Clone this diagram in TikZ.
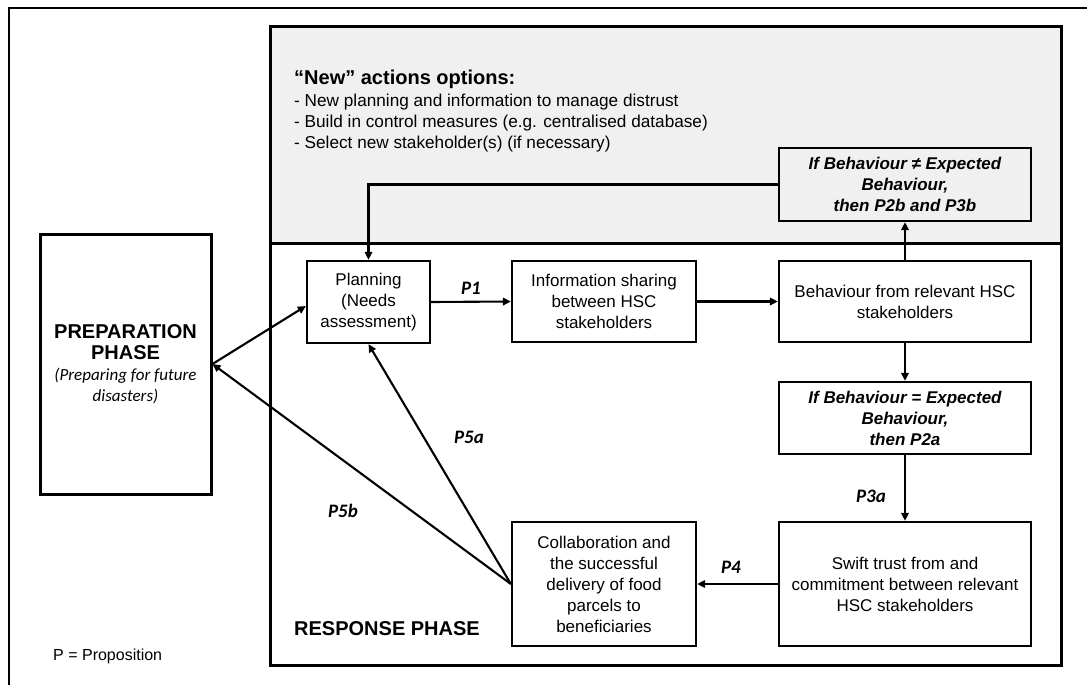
\documentclass[tikz,border=0pt]{standalone}
\usepackage{fontspec}
\setmainfont{Liberation Sans}
\newfontfamily\calib{Carlito}
\usetikzlibrary{arrows.meta}
\definecolor{panelgray}{HTML}{F0F0F0}
\newcommand{\prepbig}{\bfseries\fontsize{20}{24}\selectfont}
\newcommand{\prepsmall}{\calib\itshape\fontsize{17}{21}\selectfont}
\tikzset{
  box/.style={draw, line width=2.3pt, inner sep=0pt, align=center,
    font=\fontsize{17}{21}\selectfont},
  frame/.style={draw, line width=3pt},
  conn/.style={line width=2.1pt, -{Triangle[length=8pt,width=7.5pt]}},
  plabel/.style={font=\calib\bfseries\itshape\fontsize{19}{22}\selectfont, inner sep=0pt},
  cond/.style={box, font=\bfseries\itshape\fontsize{17}{21}\selectfont},
  bullet/.style={anchor=base west, inner sep=0pt, font=\fontsize{17.2}{21}\selectfont}
}
\begin{document}
\begin{tikzpicture}[x=1pt,y=-1pt]
\useasboundingbox (0,0) rectangle (1087,685);
\fill[white] (0,0) rectangle (1087,685);
% outer frame (only top and left edges fall on the page)
\draw[line width=2.5pt] (9,700) -- (9,8) -- (1100,8);
% new actions panel and response phase panel
\draw[frame, fill=panelgray] (270,27) rectangle (1061,243);
\draw[frame] (270,243) rectangle (1061,665);

\node[anchor=west, inner sep=0pt, font=\bfseries\fontsize{20}{24}\selectfont] (hdr) at (294,79) {``New'' actions options:};
\node[bullet] (b1) at (294,106.5) {- New planning and information to manage distrust};
\node[bullet] (b2) at (294,127.3) {- Build in control measures (e.g. centralised database)};
\node[bullet] (b3) at (294,148) {- Select new stakeholder(s) (if necessary)};

\node[box, minimum width=123pt, minimum height=82pt] (plan) at (368.5,302) {Planning\\(Needs\\assessment)};
\node[box, minimum width=184pt, minimum height=81pt] (info) at (604,301.5) {Information sharing\\between HSC\\stakeholders};
\node[box, minimum width=252pt, minimum height=81pt] (beh) at (905,301.5) {Behaviour from relevant HSC\\stakeholders};
\node[cond, fill=panelgray, minimum width=252pt, minimum height=73pt] (neq) at (905,184.5) {If Behaviour ≠ Expected\\Behaviour,\\then P2b and P3b};
\node[cond, minimum width=252pt, minimum height=72pt] (eq) at (905,418) {If Behaviour = Expected\\Behaviour,\\then P2a};
\node[box, minimum width=252pt, minimum height=124pt] (swift) at (905,584) {Swift trust from and\\commitment between relevant\\HSC stakeholders};
\node[box, minimum width=184pt, minimum height=124pt] (collab) at (604,584) {Collaboration and\\the successful\\delivery of food\\parcels to\\beneficiaries};
\node[box, line width=3pt, minimum width=171pt, minimum height=260pt] (prep) at (125.5,364)
 {\prepbig PREPARATION\\\prepbig PHASE\\\prepsmall (Preparing for future\\\prepsmall disasters)};

\node[anchor=west, inner sep=0pt, font=\bfseries\fontsize{20}{24}\selectfont] (resp) at (294,629) {RESPONSE PHASE};
\node[anchor=west, inner sep=0pt, font=\fontsize{16}{20}\selectfont] (legend) at (53,656) {P = Proposition};

% connectors
\draw[conn] (prep.east) -- ([yshift=-4pt]plan.west);
\draw[conn] (plan.east) -- (info.west);
\draw[conn] (info.east) -- (beh.west);
\draw[conn] (beh.north) -- (neq.south);
\draw[conn] (neq.west) -| (plan.north);
\draw[conn] (beh.south) -- (eq.north);
\draw[conn] (eq.south) -- (swift.north);
\draw[conn] (swift.west) -- (collab.east);
\draw[conn] (collab.west) -- (plan.south);
\draw[conn] (collab.west) -- (prep.east);

% proposition labels
\node[plabel] (p1) at (471,288) {P1};
\node[plabel] (p3a) at (871,496) {P3a};
\node[plabel] (p4) at (731,567) {P4};
\node[plabel] (p5a) at (469,437) {P5a};
\node[plabel] (p5b) at (343,511) {P5b};
\end{tikzpicture}
\end{document}
